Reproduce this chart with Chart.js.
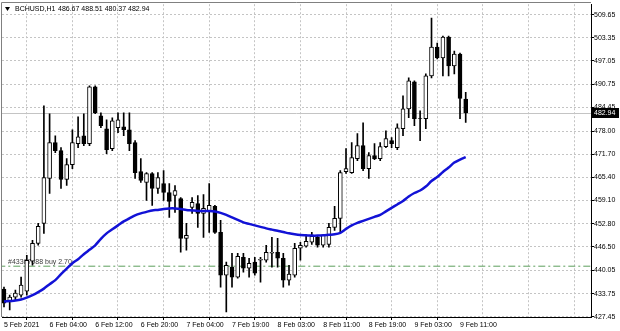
<!DOCTYPE html>
<html>
<head>
<meta charset="utf-8">
<script src="https://cdn.jsdelivr.net/npm/chart.js@4"></script>
<style>
  html, body { margin: 0; padding: 0; background: #fff; }
  canvas { display: block; }
</style>
</head>
<body>
<canvas id="bch_chart" width="620" height="331"></canvas>
<script>
// BCHUSD H1 candles
const opens = [
  434.99, 431.47, 432.82, 433.36, 434.45, 442.58, 447.45, 452.87, 465.07, 474.83,
  472.66, 464.80, 468.86, 474.56, 476.72, 474.56, 490.00, 482.14, 478.62, 473.20,
  478.89, 479.16, 478.35, 474.83, 466.97, 463.99, 466.43, 462.36, 463.72, 461.28,
  460.46, 459.65, 448.81, 457.21, 458.29, 455.58, 456.13, 457.48, 450.44, 438.78,
  440.95, 438.24, 443.66, 440.68, 442.31, 442.85, 442.85, 444.74, 445.02, 443.39,
  437.43, 438.78, 446.10, 446.64, 447.73, 449.08, 446.91, 447.18, 451.79, 454.23,
  466.97, 466.70, 470.49, 474.01, 467.78, 471.30, 470.49, 473.74, 475.37, 473.47,
  478.62, 484.04, 491.36, 481.40, 481.33, 492.98, 500.84, 497.86, 503.55, 495.69,
  498.95, 486.67
];
const highs = [
  435.53, 433.36, 434.72, 438.24, 444.20, 448.27, 452.87, 484.85, 482.69, 476.72,
  473.47, 470.49, 478.35, 481.87, 482.69, 490.27, 490.27, 482.96, 481.06, 481.60,
  482.96, 482.96, 482.96, 475.37, 470.49, 466.70, 466.70, 466.70, 467.24, 463.72,
  463.17, 459.92, 452.87, 459.92, 460.46, 460.73, 463.72, 457.75, 453.69, 442.31,
  444.74, 444.74, 444.74, 443.39, 443.66, 443.66, 446.91, 449.08, 448.81, 444.74,
  441.49, 447.45, 447.73, 449.62, 450.44, 449.62, 449.62, 452.87, 457.48, 467.24,
  473.20, 474.83, 477.27, 480.25, 472.12, 474.56, 474.83, 478.08, 476.18, 479.98,
  487.56, 492.44, 491.63, 483.50, 493.53, 508.70, 501.93, 503.82, 503.82, 499.76,
  499.22, 488.51
];
const lows = [
  430.11, 429.30, 432.01, 432.82, 433.36, 441.49, 446.91, 450.16, 461.01, 472.12,
  462.36, 463.17, 467.78, 473.47, 474.01, 474.01, 482.69, 478.89, 471.85, 472.66,
  477.54, 476.72, 472.66, 465.07, 463.99, 459.11, 457.75, 461.01, 459.11, 454.50,
  455.86, 445.02, 445.56, 455.58, 451.79, 449.08, 450.44, 450.16, 435.53, 428.76,
  435.53, 437.97, 439.60, 438.24, 438.78, 436.89, 442.31, 440.95, 440.95, 435.53,
  436.07, 438.24, 442.85, 446.37, 447.18, 446.37, 446.37, 446.37, 450.98, 450.44,
  466.43, 466.43, 469.95, 467.24, 465.07, 470.22, 469.95, 473.47, 473.47, 472.93,
  476.72, 481.60, 479.43, 475.37, 478.62, 492.44, 497.60, 492.98, 492.98, 493.53,
  481.33, 480.37
];
const closes = [
  431.19, 432.82, 433.90, 436.07, 442.85, 447.45, 452.06, 465.34, 474.83, 472.66,
  464.80, 468.86, 474.83, 476.45, 474.56, 490.00, 482.96, 479.43, 472.93, 480.79,
  481.06, 478.35, 474.56, 466.70, 464.53, 466.43, 462.36, 465.34, 461.28, 458.84,
  461.82, 448.81, 449.62, 458.57, 455.58, 456.94, 457.75, 450.44, 438.78, 441.49,
  438.24, 443.93, 440.68, 442.03, 439.32, 443.12, 445.02, 445.02, 443.39, 437.43,
  439.05, 446.10, 446.91, 448.00, 449.35, 446.91, 449.62, 451.79, 454.23, 466.70,
  467.78, 470.76, 474.01, 467.78, 471.30, 470.49, 473.74, 475.91, 474.56, 478.89,
  484.04, 491.63, 481.33, 481.33, 492.98, 500.84, 497.86, 503.55, 495.69, 498.95,
  486.90, 482.94
];
// moving average line
const maValues = [
  431.60, 431.74, 431.87, 432.14, 432.69, 433.36, 434.18, 435.12, 436.34, 437.43,
  439.05, 440.54, 442.03, 443.12, 444.47, 445.69, 446.91, 448.67, 450.16, 451.25,
  452.33, 453.42, 454.23, 455.04, 455.58, 455.99, 456.40, 456.53, 456.80, 456.94,
  456.94, 456.80, 456.53, 456.40, 456.26, 456.26, 456.26, 456.13, 455.72, 455.18,
  454.50, 453.82, 453.15, 452.74, 452.33, 451.93, 451.52, 451.17, 450.84, 450.52,
  450.16, 449.89, 449.70, 449.62, 449.54, 449.54, 449.62, 449.76, 449.89, 450.30,
  451.38, 452.33, 453.01, 453.55, 454.09, 454.64, 455.18, 456.13, 457.08, 458.02,
  458.97, 460.19, 461.14, 461.82, 462.90, 464.39, 465.48, 466.83, 468.05, 469.41,
  470.22, 470.90
];

const yTicks = [427.45, 433.75, 440.05, 446.50, 452.80, 459.10, 465.40, 471.70, 478.00, 484.45, 490.75, 497.05, 503.35, 509.65];
const xTickBars = [0, 8, 16, 24, 32, 40, 48, 56, 64, 72, 80, 88, 96];
const xTickLabels = ['5 Feb 2021', '6 Feb 04:00', '6 Feb 12:00', '6 Feb 20:00', '7 Feb 04:00', '7 Feb 19:00',
  '8 Feb 03:00', '8 Feb 11:00', '8 Feb 19:00', '9 Feb 03:00', '9 Feb 11:00', '', ''];

const symbolTitle = 'BCHUSD,H1';
const tradePrice = 441.22;
const tradeLabel = '#43367688 buy 2.70';

const FONT = 'Liberation Sans';
const lastClose = closes[closes.length - 1];

const bodyColors = opens.map((o, i) => closes[i] >= o ? '#ffffff' : '#000000');

const overlay = {
  id: 'overlay',
  beforeDatasetsDraw(chart) {
    const {ctx, chartArea: a, scales: {y}} = chart;
    // bid line
    const py = Math.round(y.getPixelForValue(lastClose)) + 0.5;
    ctx.save();
    ctx.strokeStyle = '#c4c4c4';
    ctx.lineWidth = 1;
    ctx.beginPath();
    ctx.moveTo(a.left, py);
    ctx.lineTo(a.right, py);
    ctx.stroke();
    // trade label
    const ty = y.getPixelForValue(tradePrice);
    ctx.font = '7px "' + FONT + '"';
    ctx.fillStyle = '#404040';
    ctx.textBaseline = 'middle';
    ctx.fillText(tradeLabel, 8, ty - 4);
    ctx.restore();
  },
  afterDraw(chart) {
    const {ctx, chartArea: a, scales: {y}} = chart;
    ctx.save();
    // frame on left / top
    ctx.strokeStyle = '#808080';
    ctx.lineWidth = 1;
    ctx.beginPath();
    ctx.moveTo(1.5, a.bottom);
    ctx.lineTo(1.5, 2.5);
    ctx.lineTo(a.right, 2.5);
    ctx.stroke();

    // header
    ctx.fillStyle = '#000';
    ctx.beginPath();
    ctx.moveTo(5, 7);
    ctx.lineTo(10, 7);
    ctx.lineTo(7.5, 11);
    ctx.closePath();
    ctx.fill();
    ctx.font = '7px "' + FONT + '"';
    ctx.textBaseline = 'middle';
    ctx.fillText(symbolTitle, 15, 9);
    const ohlc = [opens, highs, lows, closes].map(arr => arr[arr.length - 1].toFixed(2)).join(' ');
    ctx.fillText(ohlc, 58, 9);

    // price tag
    const py = Math.round(y.getPixelForValue(lastClose));
    ctx.fillStyle = '#000';
    ctx.fillRect(a.right + 1, py - 5, 27, 10);
    ctx.fillStyle = '#fff';
    ctx.fillText(lastClose.toFixed(2), a.right + 3, py + 0.5);
    ctx.restore();
  }
};

const bch_chart = document.getElementById('bch_chart');

new Chart(bch_chart, {
  type: 'bar',
  data: {
    datasets: [
      {
        type: 'line',
        label: 'MA',
        data: maValues.map((v, i) => ({x: i, y: v})),
        borderColor: '#1212d6',
        borderWidth: 2.5,
        pointRadius: 0,
        tension: 0.3,
        order: 0
      },
      {
        label: 'body',
        data: opens.map((o, i) => ({x: i, y: [o, closes[i]]})),
        backgroundColor: bodyColors,
        borderColor: '#000',
        borderWidth: 1,
        borderSkipped: false,
        barThickness: 4,
        grouped: false,
        order: 1
      },
      {
        label: 'wick',
        data: lows.map((l, i) => ({x: i, y: [l, highs[i]]})),
        backgroundColor: '#000',
        barThickness: 1,
        grouped: false,
        order: 2
      },
      {
        type: 'line',
        label: 'trade',
        data: [{x: -1, y: tradePrice}, {x: 104, y: tradePrice}],
        borderColor: '#5c9e5c',
        borderWidth: 1,
        borderDash: [7, 3, 2, 3],
        pointRadius: 0,
        order: 3
      }
    ]
  },
  options: {
    responsive: false,
    animation: false,
    devicePixelRatio: 1,
    layout: {padding: {left: 2, top: 3, right: 0, bottom: 0}},
    plugins: {
      legend: {display: false},
      tooltip: {enabled: false}
    },
    scales: {
      x: {
        type: 'linear',
        min: -0.35,
        max: 102.98,
        offset: false,
        afterBuildTicks: s => { s.ticks = xTickBars.map(v => ({value: v})); },
        afterFit: s => { s.height = 14; },
        ticks: {
          callback: (v, i) => xTickLabels[i],
          align: 'start',
          maxRotation: 0,
          autoSkip: false,
          padding: 1,
          color: '#000',
          font: {family: FONT, size: 7}
        },
        grid: {
          color: '#c4c4c4',
          tickLength: 3,
          tickColor: c => xTickLabels[c.index] ? '#000' : 'rgba(0,0,0,0)'
        },
        border: {color: '#000', dash: [2, 2]}
      },
      y: {
        type: 'linear',
        position: 'right',
        min: 427.40,
        max: 512.50,
        afterBuildTicks: s => { s.ticks = yTicks.map(v => ({value: v})); },
        afterFit: s => { s.width = 29; },
        ticks: {
          callback: v => v.toFixed(2),
          padding: 0,
          color: '#000',
          font: {family: FONT, size: 7}
        },
        grid: {
          color: '#c4c4c4',
          tickLength: 3,
          tickColor: '#000'
        },
        border: {color: '#000', dash: [2, 2]}
      }
    }
  },
  plugins: [overlay]
});
</script>
</body>
</html>
